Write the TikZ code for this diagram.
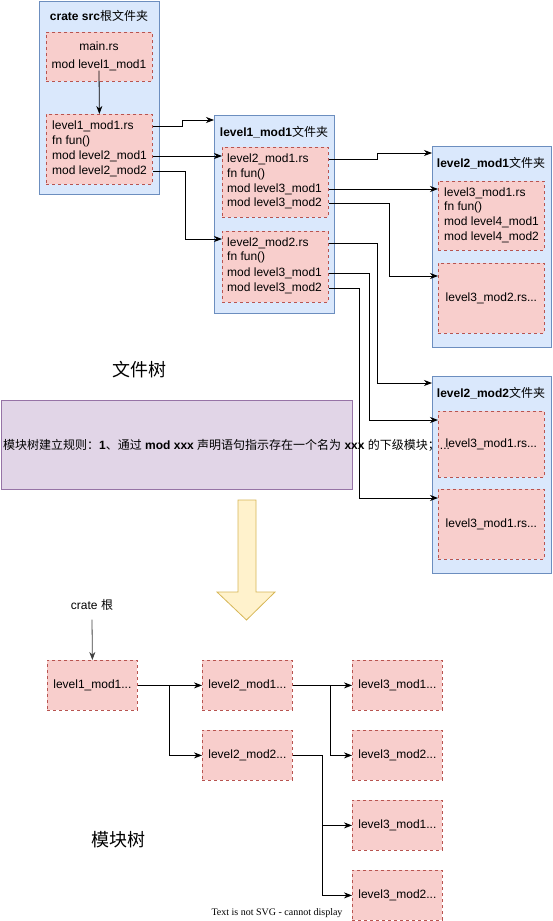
\documentclass[tikz,border=0pt]{standalone}
\usepackage{fontspec}
\setmainfont{Liberation Sans}
\newfontfamily\cjk{Noto Sans CJK SC}
\newfontfamily\notefont{Liberation Serif}
\usetikzlibrary{positioning,arrows.meta}
\definecolor{folderfill}{HTML}{DAE8FC}
\definecolor{folderline}{HTML}{6C8EBF}
\definecolor{modfill}{HTML}{F8CECC}
\definecolor{modline}{HTML}{B85450}
\definecolor{rulefill}{HTML}{E1D5E7}
\definecolor{ruleline}{HTML}{9673A6}
\definecolor{bigfill}{HTML}{FFF2CC}
\definecolor{bigline}{HTML}{D6B656}
\tikzset{
  folder/.style={draw=folderline, fill=folderfill, line width=0.8pt, anchor=north west, inner sep=0pt},
  modbox/.style={draw=modline, fill=modfill, line width=0.8pt, dash pattern=on 3pt off 3pt,
    anchor=north west, inner sep=0pt, font=\fontsize{12}{14}\selectfont},
  treebox/.style={modbox, minimum width=90pt, minimum height=50pt},
  codeline/.style={anchor=west, inner sep=0pt, font=\fontsize{12}{14}\selectfont},
  title/.style={inner sep=0pt, font=\fontsize{12}{14}\selectfont},
  link/.style={line width=0.8pt, -{Stealth[length=8pt,width=6pt,inset=2.5pt]}},
}
\begin{document}
\begin{tikzpicture}[x=1pt, y=-1pt]
\useasboundingbox (0,0) rectangle (552,921);

% file tree: crate src
\node[folder, minimum width=120pt, minimum height=193pt] (fA) at (39,1) {};
\node[title] (tA) at (99,16) {\textbf{crate src}{\cjk 根文件夹}};
\node[modbox, minimum width=106pt, minimum height=49pt] (mainbox) at (46,32) {};
\node[title] (mainr) at (99,46) {main.rs};
\node[title] (mainm) at (99,65) {mod level1\_mod1};
\node[modbox, minimum width=106pt, minimum height=70pt] (l1box) at (46,114) {};
\node[codeline] (l1r) at (52,126) {level1\_mod1.rs};
\node[codeline] (l1f) at (52,141) {fn fun()};
\node[codeline] (l1m1) at (52,156) {mod level2\_mod1};
\node[codeline] (l1m2) at (52,171) {mod level2\_mod2};

% level1_mod1
\node[folder, minimum width=120pt, minimum height=198pt] (fB) at (214,115) {};
\node[title] (tB) at (274,132) {\textbf{level1\_mod1}{\cjk 文件夹}};
\node[modbox, minimum width=106pt, minimum height=70pt] (b1box) at (222,147) {};
\node[codeline] (b1r) at (227,159) {level2\_mod1.rs};
\node[codeline] (b1f) at (227,174) {fn fun()};
\node[codeline] (b1m1) at (227,189) {mod level3\_mod1};
\node[codeline] (b1m2) at (227,203) {mod level3\_mod2};
\node[modbox, minimum width=106pt, minimum height=71pt] (b2box) at (222,231) {};
\node[codeline] (b2r) at (227,243) {level2\_mod2.rs};
\node[codeline] (b2f) at (227,257) {fn fun()};
\node[codeline] (b2m1) at (227,273) {mod level3\_mod1};
\node[codeline] (b2m2) at (227,288) {mod level3\_mod2};

% level2_mod1
\node[folder, minimum width=119pt, minimum height=201pt] (fC) at (432,146) {};
\node[title] (tC) at (491,163) {\textbf{level2\_mod1}{\cjk 文件夹}};
\node[modbox, minimum width=106pt, minimum height=69pt] (c1box) at (438,181) {};
\node[codeline] (c1r) at (444,193) {level3\_mod1.rs};
\node[codeline] (c1f) at (444,207) {fn fun()};
\node[codeline] (c1m1) at (444,222) {mod level4\_mod1};
\node[codeline] (c1m2) at (444,237) {mod level4\_mod2};
\node[modbox, minimum width=106pt, minimum height=70pt] (c2box) at (438,263) {level3\_mod2.rs...};

% level2_mod2
\node[folder, minimum width=119pt, minimum height=197pt] (fD) at (432,376) {};
\node[title] (tD) at (491,393) {\textbf{level2\_mod2}{\cjk 文件夹}};
\node[modbox, minimum width=106pt, minimum height=66pt] (d1box) at (438,411) {level3\_mod1.rs...};
\node[modbox, minimum width=106pt, minimum height=70pt] (d2box) at (438,489) {level3\_mod1.rs...};

% links of the file tree
\draw[link] (mainm.south) -- (l1box.north);
\draw[link] (l1box.east |- l1r) -- ++(30,0) |- ([yshift=-5pt]fB.north west);
\draw[link] (l1box.east |- l1m1) -- (b1box.west |- l1m1);
\draw[link] (l1box.east |- l1m2) -- ++(33,0) |- ([yshift=-8pt]b2box.north west);
\draw[link] (b1box.east |- b1r) -- ++(49,0) |- ([yshift=-7pt]fC.north west);
\draw[link] (b1box.east |- b1m1) -- (c1box.west |- b1m1);
\draw[link] (b1box.east |- b1m2) -- ++(61,0) |- ([yshift=-13pt]c2box.north west);
\draw[link] (b2box.east |- b2r) -- ++(49,0) |- ([yshift=-7pt]fD.north west);
\draw[link] (b2box.east |- b2m1) -- ++(41,0) |- ([yshift=-9pt]d1box.north west);
\draw[link] (b2box.east |- b2m2) -- ++(31,0) |- ([yshift=-9pt]d2box.north west);

\node[inner sep=0pt, font=\cjk\fontsize{18}{20}\selectfont] (filetree) at (139,370) {文件树};

% rule
\node[draw=ruleline, fill=rulefill, line width=0.8pt, anchor=north west, inner sep=0pt,
  minimum width=351pt, minimum height=89pt] (rule) at (1,400) {};
\node[codeline] (ruletxt) at (3,445) {{\cjk 模块树建立规则：}\textbf{1}{\cjk 、通过} \textbf{mod xxx} {\cjk 声明语句指示存在一个名为} \textbf{xxx} {\cjk 的下级模块；}...};

% big arrow
\draw[bigline, fill=bigfill, line width=0.8pt] (238,500) -- (256,500) -- (256,592) -- (275,592)
  -- (246.5,620) -- (217,592) -- (238,592) -- cycle;

% module tree
\node[title] (croot) at (92,605) {crate {\cjk 根}};
\node[treebox] (m1) at (47,660) {level1\_mod1...};
\node[treebox] (m21) at (202,660) {level2\_mod1...};
\node[treebox] (m22) at (202,730) {level2\_mod2...};
\node[treebox] (m31) at (352,660) {level3\_mod1...};
\node[treebox] (m32) at (352,730) {level3\_mod2...};
\node[treebox] (m33) at (352,800) {level3\_mod1...};
\node[treebox] (m34) at (352,870) {level3\_mod2...};
\draw[link, black!75] (croot.south) ++(0,9) -- (m1.north);
\draw[link] (m1.east) -- (m21.west);
\draw[link] (m1.east) -- ++(32,0) |- (m22.west);
\draw[link] (m21.east) -- (m31.west);
\draw[link] (m21.east) -- ++(38,0) |- (m32.west);
\draw[link] (m22.east) -- ++(30,0) |- (m33.west);
\draw[link] (m22.east) -- ++(30,0) |- (m34.west);

\node[inner sep=0pt, font=\cjk\fontsize{18}{20}\selectfont] (modtree) at (118,840) {模块树};
\node[inner sep=0pt, font=\notefont\fontsize{10}{11}\selectfont] (svgnote) at (277,913) {Text is not SVG - cannot display};
\end{tikzpicture}
\end{document}
